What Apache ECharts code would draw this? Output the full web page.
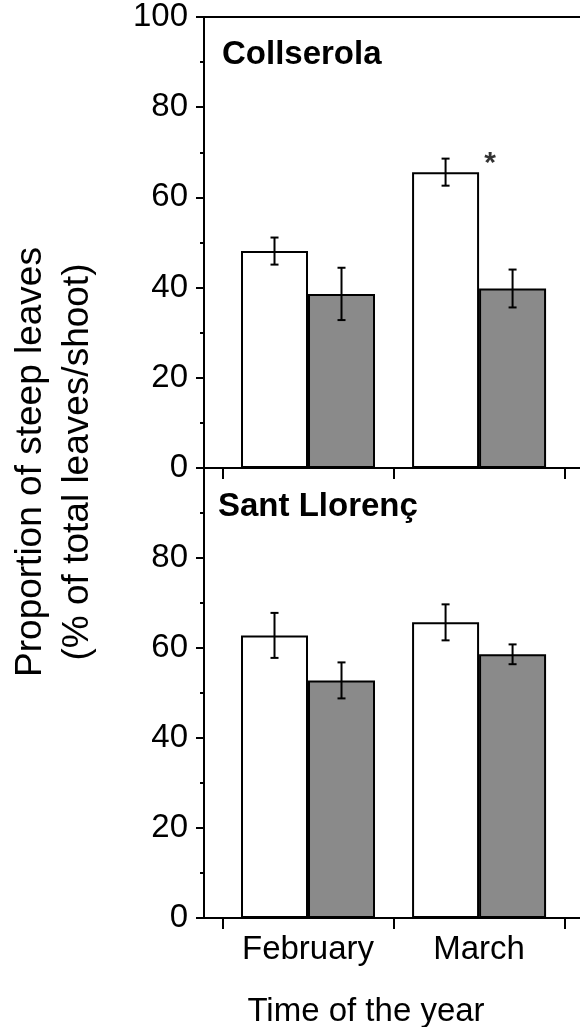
<!DOCTYPE html>
<html>
<head>
<meta charset="utf-8">
<script src="https://cdn.jsdelivr.net/npm/echarts@6/dist/echarts.min.js"></script>
<style>
  html, body { margin: 0; padding: 0; background: #fff; }
  #chart { width: 580px; height: 1027px; }
</style>
</head>
<body>
<div id="chart"></div>
<script>
// ---- data ----
const categories = ['February', 'March'];
const panelTitles = ['Collserola', 'Sant Llorenç'];
const yTicks = [0, 20, 40, 60, 80, 100];

// Collserola (top panel)
const collWhite    = [48.1, 65.6];
const collWhiteErr = [3.0, 3.0];
const collGrey     = [38.6, 39.8];
const collGreyErr  = [5.8, 4.2];

// Sant Llorenç (bottom panel)
const llorWhite    = [62.8, 65.7];
const llorWhiteErr = [5.0, 4.0];
const llorGrey     = [52.8, 58.6];
const llorGreyErr  = [4.0, 2.2];

// significance marker (March, Collserola)
const starPoint = [2.064, 67.4];

const yTitle1 = 'Proportion of steep leaves';
const yTitle2 = '(% of total leaves/shoot)';
const xTitle = 'Time of the year';

// ---- styling ----
const FONT = '"Liberation Sans", Arial, Helvetica, sans-serif';
const BAR_W = 67;
const GREY = '#8a8a8a';
const xMin = 0.392, xMax = 2.59;
const xTickVals = [0.5, 1.5, 2.5];

const chart = echarts.init(document.getElementById('chart'), null, { renderer: 'canvas' });

function xAxisDef(gridIndex, showLabels) {
  return {
    type: 'value', gridIndex: gridIndex, min: xMin, max: xMax,
    axisLine: { show: true, lineStyle: { color: '#000', width: 2 } },
    axisTick: { show: true, customValues: xTickVals, length: 11, inside: false,
                lineStyle: { color: '#000', width: 2 } },
    axisLabel: {
      show: showLabels, customValues: [1, 2], margin: 15,
      formatter: v => categories[Math.round(v) - 1] || '',
      fontFamily: FONT, fontSize: 33, color: '#000'
    },
    splitLine: { show: false }
  };
}
function yAxisDef(gridIndex, showMax) {
  return {
    type: 'value', gridIndex: gridIndex, min: 0, max: 100, interval: 20,
    axisLine: { show: true, lineStyle: { color: '#000', width: 2 } },
    axisTick: { show: true, length: 8, lineStyle: { color: '#000', width: 2 } },
    minorTick: { show: true, splitNumber: 2, length: 4, lineStyle: { color: '#000', width: 2 } },
    axisLabel: {
      showMaxLabel: showMax, margin: 16,
      formatter: v => (yTicks.indexOf(v) >= 0 ? String(v) : ''),
      fontFamily: FONT, fontSize: 33, color: '#000'
    },
    splitLine: { show: false }
  };
}
function barSeries(idx, vals, color) {
  return {
    type: 'bar', xAxisIndex: idx, yAxisIndex: idx,
    data: vals.map((v, i) => [i + 1, v]),
    barWidth: BAR_W, barGap: '0%',
    itemStyle: { color: color, borderColor: '#000', borderWidth: 2 },
    silent: true, z: 2
  };
}
function errSeries(idx, means, errs, side) {
  return {
    type: 'custom', xAxisIndex: idx, yAxisIndex: idx, z: 10, silent: true,
    encode: { x: 0, y: [1, 2] },
    data: means.map((m, i) => [i + 1, m - errs[i], m + errs[i]]),
    renderItem: (params, api) => {
      const x = api.value(0);
      const lo = api.coord([x, api.value(1)]);
      const hi = api.coord([x, api.value(2)]);
      const px = lo[0] + side * BAR_W / 2;
      const cap = 4;
      const st = { stroke: '#000', lineWidth: 2 };
      return {
        type: 'group', children: [
          { type: 'line', shape: { x1: px, y1: lo[1], x2: px, y2: hi[1] }, style: st },
          { type: 'line', shape: { x1: px - cap, y1: lo[1], x2: px + cap, y2: lo[1] }, style: st },
          { type: 'line', shape: { x1: px - cap, y1: hi[1], x2: px + cap, y2: hi[1] }, style: st }
        ]
      };
    }
  };
}

const option = {
  animation: false,
  backgroundColor: '#fff',
  grid: [
    { left: 204, top: 17, width: 376, height: 451 },
    { left: 204, top: 468, width: 376, height: 450 }
  ],
  xAxis: [
    xAxisDef(0, false),
    xAxisDef(1, true),
    { type: 'value', gridIndex: 0, position: 'top', min: xMin, max: xMax,
      axisLine: { show: true, lineStyle: { color: '#000', width: 2 } },
      axisTick: { show: false }, axisLabel: { show: false }, splitLine: { show: false } }
  ],
  yAxis: [yAxisDef(0, true), yAxisDef(1, false)],
  series: [
    barSeries(0, collWhite, '#fff'),
    barSeries(0, collGrey, GREY),
    errSeries(0, collWhite, collWhiteErr, -1),
    errSeries(0, collGrey, collGreyErr, 1),
    barSeries(1, llorWhite, '#fff'),
    barSeries(1, llorGrey, GREY),
    errSeries(1, llorWhite, llorWhiteErr, -1),
    errSeries(1, llorGrey, llorGreyErr, 1),
    {
      type: 'scatter', xAxisIndex: 0, yAxisIndex: 0, symbolSize: 0, silent: true, z: 12,
      data: [starPoint],
      label: { show: true, position: 'inside', formatter: '*', fontFamily: FONT,
               fontSize: 30, fontWeight: 'bold', color: '#000' }
    }
  ],
  graphic: [
    { type: 'text', left: 222, top: 38, style: { text: panelTitles[0], font: 'bold 33px ' + FONT, fill: '#000' } },
    { type: 'text', left: 218, top: 490, style: { text: panelTitles[1], font: 'bold 33px ' + FONT, fill: '#000' } },
    { type: 'text', x: 31, y: 462, rotation: Math.PI / 2,
      style: { text: yTitle1, font: '37px ' + FONT, fill: '#000', align: 'center', verticalAlign: 'middle' } },
    { type: 'text', x: 78, y: 462, rotation: Math.PI / 2,
      style: { text: yTitle2, font: '37px ' + FONT, fill: '#000', align: 'center', verticalAlign: 'middle' } },
    { type: 'text', x: 366, y: 1012,
      style: { text: xTitle, font: '33px ' + FONT, fill: '#000', align: 'center', verticalAlign: 'middle' } }
  ]
};
chart.setOption(option);
</script>
</body>
</html>
